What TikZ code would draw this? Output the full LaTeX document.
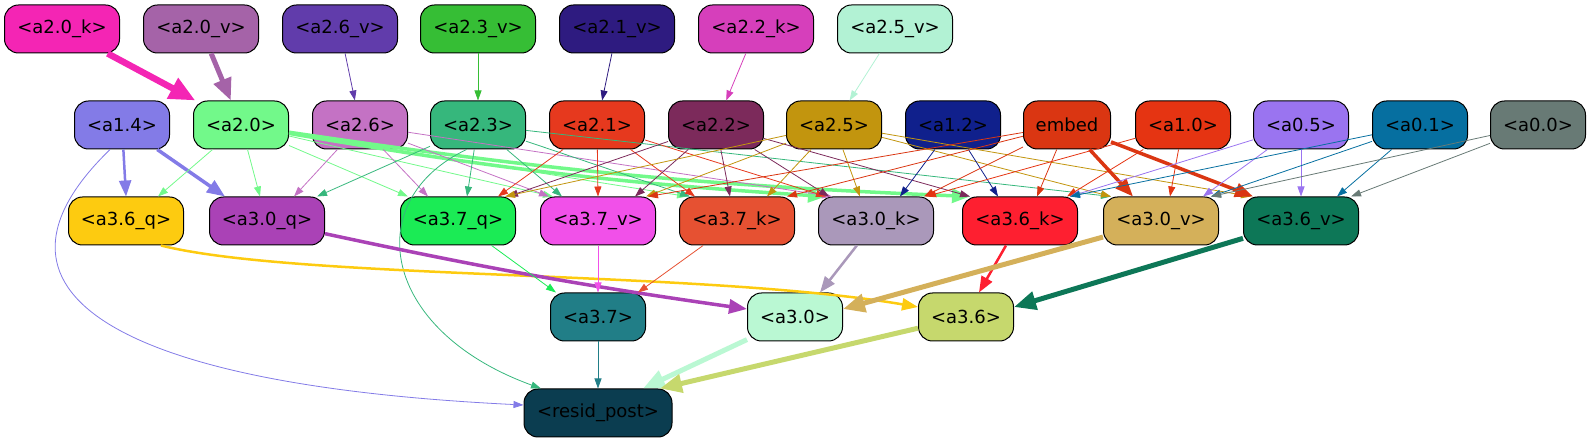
\documentclass[tikz,border=0pt]{standalone}
\usepackage{fontspec}
\setmainfont{DejaVu Sans}
\usetikzlibrary{arrows.meta}

\definecolor{ca20k}{HTML}{F425B4}
\definecolor{ca20v}{HTML}{A563A8}
\definecolor{ca26v}{HTML}{613CAB}
\definecolor{ca23v}{HTML}{36BE35}
\definecolor{ca21v}{HTML}{2E1B80}
\definecolor{ca22k}{HTML}{D63FBB}
\definecolor{ca25v}{HTML}{B2F2D4}
\definecolor{ca14}{HTML}{837BE7}
\definecolor{ca20}{HTML}{72F98A}
\definecolor{ca26}{HTML}{C472C4}
\definecolor{ca23}{HTML}{36B77C}
\definecolor{ca21}{HTML}{E6391E}
\definecolor{ca22}{HTML}{7C2A5B}
\definecolor{ca25}{HTML}{C2950E}
\definecolor{ca12}{HTML}{10208C}
\definecolor{cembed}{HTML}{DA3612}
\definecolor{ca10}{HTML}{E53412}
\definecolor{ca05}{HTML}{9A74F0}
\definecolor{ca01}{HTML}{066FA0}
\definecolor{ca00}{HTML}{687A75}
\definecolor{ca36q}{HTML}{FDCB10}
\definecolor{ca30q}{HTML}{AA42B6}
\definecolor{ca37q}{HTML}{1BEB55}
\definecolor{ca37v}{HTML}{F150E9}
\definecolor{ca37k}{HTML}{E65132}
\definecolor{ca30k}{HTML}{AA98BA}
\definecolor{ca36k}{HTML}{FE1F30}
\definecolor{ca30v}{HTML}{D4B05A}
\definecolor{ca36v}{HTML}{0D7757}
\definecolor{ca37}{HTML}{217E87}
\definecolor{ca30}{HTML}{BAF8D3}
\definecolor{ca36}{HTML}{C6D86D}
\definecolor{cresid}{HTML}{0B3D50}

\begin{document}
\begin{tikzpicture}[x=1pt,y=1pt]
    \tikzstyle{wide node}=[
        draw = black,
        line width = 1pt,
        rounded corners = 14pt,
        minimum width = 115pt,
        minimum height = 48pt,
        inner sep = 0pt,
        font = \fontsize{18}{20}\selectfont
    ]
    \tikzstyle{narrow node}=[wide node, minimum width = 95pt]
    \tikzstyle{e1}=[line width=0.8pt, -{Triangle[length=10pt,width=7pt]}]
    \tikzstyle{e2}=[line width=2.5pt, -{Triangle[length=16pt,width=12pt]}]
    \tikzstyle{e3}=[line width=3.5pt, -{Triangle[length=18pt,width=14pt]}]
    \tikzstyle{e5}=[line width=5pt, -{Triangle[length=22pt,width=18pt]}]
    \tikzstyle{e6}=[line width=6.5pt, -{Triangle[length=26pt,width=22pt]}]

    \useasboundingbox (0,0) rectangle (1591,-443);

    % top row
    \node[wide node, fill=ca20k] (a20k) at (62,-29)  {<a2.0\_k>};
    \node[wide node, fill=ca20v] (a20v) at (201,-29) {<a2.0\_v>};
    \node[wide node, fill=ca26v] (a26v) at (340,-29) {<a2.6\_v>};
    \node[wide node, fill=ca23v] (a23v) at (478,-29) {<a2.3\_v>};
    \node[wide node, fill=ca21v] (a21v) at (617,-29) {<a2.1\_v>};
    \node[wide node, fill=ca22k] (a22k) at (756,-29) {<a2.2\_k>};
    \node[wide node, fill=ca25v] (a25v) at (895,-29) {<a2.5\_v>};

    % second row
    \node[narrow node, fill=ca14]  (a14)   at (122,-125)  {<a1.4>};
    \node[narrow node, fill=ca20]  (a20)   at (241,-125)  {<a2.0>};
    \node[narrow node, fill=ca26]  (a26)   at (360,-125)  {<a2.6>};
    \node[narrow node, fill=ca23]  (a23)   at (478,-125)  {<a2.3>};
    \node[narrow node, fill=ca21]  (a21)   at (597,-125)  {<a2.1>};
    \node[narrow node, fill=ca22]  (a22)   at (716,-125)  {<a2.2>};
    \node[narrow node, fill=ca25]  (a25)   at (834,-125)  {<a2.5>};
    \node[narrow node, fill=ca12]  (a12)   at (953,-125)  {<a1.2>};
    \node[narrow node, fill=cembed, minimum width=87pt] (embed) at (1067,-125) {embed};
    \node[narrow node, fill=ca10]  (a10)   at (1183,-125) {<a1.0>};
    \node[narrow node, fill=ca05]  (a05)   at (1301,-125) {<a0.5>};
    \node[narrow node, fill=ca01]  (a01)   at (1420,-125) {<a0.1>};
    \node[narrow node, fill=ca00]  (a00)   at (1538,-125) {<a0.0>};

    % third row
    \node[wide node, fill=ca36q] (a36q) at (126,-221)  {<a3.6\_q>};
    \node[wide node, fill=ca30q] (a30q) at (267,-221)  {<a3.0\_q>};
    \node[wide node, fill=ca37q] (a37q) at (458,-221)  {<a3.7\_q>};
    \node[wide node, fill=ca37v] (a37v) at (598,-221)  {<a3.7\_v>};
    \node[wide node, fill=ca37k] (a37k) at (737,-221)  {<a3.7\_k>};
    \node[wide node, fill=ca30k] (a30k) at (876,-221)  {<a3.0\_k>};
    \node[wide node, fill=ca36k] (a36k) at (1020,-221) {<a3.6\_k>};
    \node[wide node, fill=ca30v] (a30v) at (1161,-221) {<a3.0\_v>};
    \node[wide node, fill=ca36v] (a36v) at (1301,-221) {<a3.6\_v>};

    % lower rows
    \node[narrow node, fill=ca37] (a37) at (598,-317) {<a3.7>};
    \node[narrow node, fill=ca30] (a30) at (795,-317) {<a3.0>};
    \node[narrow node, fill=ca36] (a36) at (966,-317) {<a3.6>};
    \node[narrow node, fill=cresid, minimum width=148pt] (resid) at (598,-413) {<resid\_post>};

    \path[e6] (a20k) edge [ca20k] (a20);
    \path[e5] (a20v) edge [ca20v] (a20);
    \path[e1] (a26v) edge [ca26v] (a26);
    \path[e1] (a23v) edge [ca23v] (a23);
    \path[e1] (a21v) edge [ca21v] (a21);
    \path[e1] (a22k) edge [ca22k] (a22);
    \path[e1] (a25v) edge [ca25v] (a25);

    \path[e2] (a14) edge [ca14] (a36q.north);
    \path[e3] (a14) edge [ca14] ([xshift=-42pt]a30q.north);
    \draw[e1, ca14] (a14.244) .. controls (-35,-290) and (110,-385) .. ([yshift=8pt]resid.west);

    \path[e1] (a20) edge [ca20] ([xshift=32pt]a36q.north);
    \path[e1] (a20) edge [ca20] ([xshift=-7pt]a30q.north);
    \path[e1] (a20) edge [ca20] ([xshift=-50pt]a37q.north);
    \path[e1] (a20) edge [ca20] ([xshift=-45pt]a37v.north);
    \path[e1] (a20) edge [ca20] ([xshift=-50pt]a37k.north);
    \path[e3] (a20) edge [ca20, bend right=3] ([xshift=-50pt]a30k.north);
    \path[e3] (a20) edge [ca20, bend right=3] ([xshift=-50pt]a36k.north);

    \path[e1] (a26) edge [ca26] ([xshift=27pt]a30q.north);
    \path[e1] (a26) edge [ca26] ([xshift=-30pt]a37q.north);
    \path[e1] (a26) edge [ca26] ([xshift=-49pt]a37v.north);
    \path[e1] (a26) edge [ca26] ([xshift=-44pt]a30k.north);

    \path[e1] (a23) edge [ca23] ([xshift=50pt]a30q.north);
    \path[e1] (a23) edge [ca23] ([xshift=9pt]a37q.north);
    \path[e1] (a23) edge [ca23] ([xshift=-36pt]a37v.north);
    \path[e1] (a23) edge [ca23] ([xshift=-47pt]a37k.north);
    \path[e1] (a23) edge [ca23] ([xshift=-50pt]a30v.north);
    \draw[e1, ca23] (a23.245) .. controls (360,-200) and (380,-330) .. ([xshift=-57pt]resid.north);

    \path[e1] (a21) edge [ca21] ([xshift=40pt]a37q.north);
    \path[e1] (a21) edge [ca21] (a37v.north);
    \path[e1] (a21) edge [ca21] ([xshift=-42pt]a37k.north);
    \path[e1] (a21) edge [ca21] ([xshift=-50pt]a30k.north);

    \path[e1] (a22) edge [ca22] ([xshift=50pt]a37q.north);
    \path[e1] (a22) edge [ca22] ([xshift=37pt]a37v.north);
    \path[e1] (a22) edge [ca22] ([xshift=-7pt]a37k.north);
    \path[e1] (a22) edge [ca22] ([xshift=-47pt]a30k.north);
    \path[e1] (a22) edge [ca22] ([xshift=-50pt]a36k.north);

    \path[e1] (a25) edge [ca25] ([xshift=47pt]a37q.north);
    \path[e1] (a25) edge [ca25] ([xshift=48pt]a37v.north);
    \path[e1] (a25) edge [ca25] ([xshift=30pt]a37k.north);
    \path[e1] (a25) edge [ca25] ([xshift=-16pt]a30k.north);
    \path[e1] (a25) edge [ca25] ([xshift=-50pt]a30v.north);
    \path[e1] (a25) edge [ca25] ([xshift=-50pt]a36v.north);

    \path[e1] (a12) edge [ca12] ([xshift=24pt]a30k.north);
    \path[e1] (a12) edge [ca12] ([xshift=-22pt]a36k.north);

    \path[e1] (embed) edge [cembed] ([xshift=50pt]a37v.north);
    \path[e1] (embed) edge [cembed] ([xshift=50pt]a37k.north);
    \path[e1] (embed) edge [cembed] ([xshift=48pt]a30k.north);
    \path[e1] (embed) edge [cembed] ([xshift=17pt]a36k.north);
    \path[e3] (embed) edge [cembed] ([xshift=-28pt]a30v.north);
    \path[e3] (embed) edge [cembed] ([xshift=-48pt]a36v.north);

    \path[e1] (a10) edge [ca10] ([xshift=50pt]a30k.north);
    \path[e1] (a10) edge [ca10] ([xshift=47pt]a36k.north);
    \path[e1] (a10) edge [ca10] ([xshift=9pt]a30v.north);

    \path[e1] (a05) edge [ca05] ([xshift=50pt]a36k.north);
    \path[e1] (a05) edge [ca05] ([xshift=42pt]a30v.north);
    \path[e1] (a05) edge [ca05] (a36v.north);

    \path[e1] (a01) edge [ca01] ([xshift=50pt]a36k.north);
    \path[e1] (a01) edge [ca01] ([xshift=50pt]a30v.north);
    \path[e1] (a01) edge [ca01] ([xshift=36pt]a36v.north);

    \path[e1] (a00) edge [ca00] ([xshift=50pt]a30v.north);
    \path[e1] (a00) edge [ca00] ([xshift=50pt]a36v.north);

    \draw[e2, ca36q] (a36q.-35) .. controls (300,-280) and (700,-270) .. ([yshift=10pt]a36.west);
    \path[e3] (a30q) edge [ca30q, bend right=2] ([yshift=8pt]a30.west);
    \path[e1] (a37q) edge [ca37q] ([xshift=-42pt]a37.north);
    \path[e1] (a37v) edge [ca37v] (a37.north);
    \path[e1] (a37k) edge [ca37k] ([xshift=40pt]a37.north);
    \path[e2] (a30k) edge [ca30k] ([xshift=25pt]a30.north);
    \path[e2] (a36k) edge [ca36k] ([xshift=13pt]a36.north);
    \path[e5] (a30v) edge [ca30v] ([yshift=8pt]a30.east);
    \path[e5] (a36v) edge [ca36v] ([yshift=10pt]a36.east);

    \path[e1] (a37) edge [ca37] (resid.north);
    \path[e5] (a30) edge [ca30] ([xshift=45pt]resid.north);
    \path[e5] (a36) edge [ca36] ([xshift=62pt]resid.north);

\end{tikzpicture}
\end{document}
